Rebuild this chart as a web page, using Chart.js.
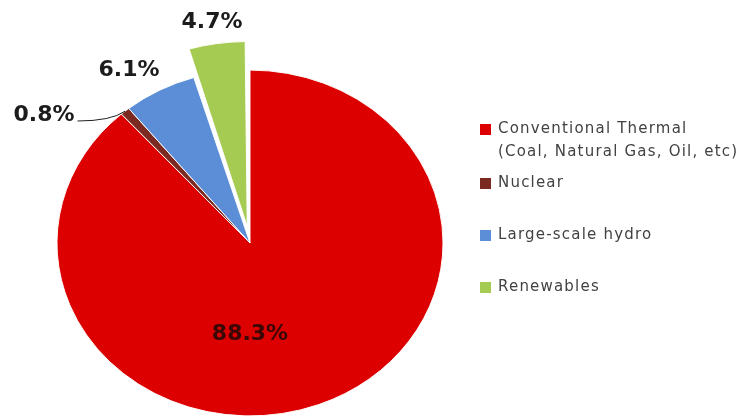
<!DOCTYPE html>
<html>
<head>
<meta charset="utf-8">
<script src="https://cdn.jsdelivr.net/npm/chart.js@4.4.1/dist/chart.umd.min.js"></script>
<style>
  html, body { margin: 0; padding: 0; background: #fff; }
  #wrap { width: 738px; height: 417px; position: relative; }
</style>
</head>
<body>
<div id="wrap"><canvas id="pie_chart_div" width="738" height="417"></canvas></div>
<script>
// ===========================================================================
// data

const categories = [
  ["Conventional Thermal", "(Coal, Natural Gas, Oil, etc)"],
  ["Nuclear"],
  ["Large-scale hydro"],
  ["Renewables"]
];
const shares = [88.3, 0.8, 6.1, 4.7];
const sliceColors = ["#DC0000", "#7B2A22", "#5B8ED6", "#A6CB52"];
// chart.js only moves an arc by a fraction of its offset
const sliceOffsets = [0, 0, 0, 75];

// ===========================================================================
// layout bits (not data)

const squash = 0.896;           // pie drawn a bit flatter, like the Excel one
const valueLabels = [           // label centre, relative to pie centre
  { dx: 0,    dy: 91,   color: "#3a0606" },
  { dx: -206, dy: -128, color: "#1c1c1c", leader: true },
  { dx: -121, dy: -173, color: "#1c1c1c" },
  { dx: -38,  dy: -221, color: "#1c1c1c" }
];
const legendRows = [129, 183, 235, 287];

// squash the arcs vertically around the pie centre
const ellipsePlugin = {
  id: "ellipse",
  beforeDatasetsDraw(chart) {
    const arc = chart.getDatasetMeta(0).data[0];
    const ctx = chart.ctx;
    ctx.save();
    ctx.translate(arc.x, arc.y);
    ctx.scale(1, squash);
    ctx.translate(-arc.x, -arc.y);
  },
  afterDatasetsDraw(chart) {
    chart.ctx.restore();
  }
};

// percentage labels + leader line
const labelPlugin = {
  id: "valueLabels",
  afterDatasetsDraw(chart) {
    const ctx = chart.ctx;
    const arcs = chart.getDatasetMeta(0).data;
    const cx = arcs[0].x, cy = arcs[0].y;
    ctx.save();
    ctx.font = 'bold 22px "DejaVu Sans"';
    ctx.textAlign = "center";
    ctx.textBaseline = "middle";
    shares.forEach((v, i) => {
      const p = valueLabels[i];
      const x = cx + p.dx, y = cy + p.dy;
      ctx.fillStyle = p.color;
      ctx.fillText(v.toFixed(1) + "%", x, y);
      if (p.leader) {
        // point on the outer edge of this slice
        const a = arcs[i];
        const mid = (a.startAngle + a.endAngle) / 2;
        const ex = cx + Math.cos(mid) * a.outerRadius;
        const ey = cy + Math.sin(mid) * a.outerRadius * squash;
        const w = ctx.measureText(v.toFixed(1) + "%").width;
        ctx.strokeStyle = "#222";
        ctx.lineWidth = 1;
        ctx.beginPath();
        ctx.moveTo(x + w / 2 + 3, y + 6);
        ctx.quadraticCurveTo(ex - 14, y + 6, ex, ey);
        ctx.stroke();
      }
    });
    ctx.restore();
  }
};

// legend on the right, drawn by hand (two-line first entry)
const legendPlugin = {
  id: "sideLegend",
  afterDraw(chart) {
    const ctx = chart.ctx;
    ctx.save();
    ctx.font = '15px "DejaVu Sans"';
    ctx.letterSpacing = "1.2px";
    ctx.textBaseline = "middle";
    ctx.textAlign = "left";
    categories.forEach((lines, i) => {
      const y = legendRows[i];
      ctx.fillStyle = sliceColors[i];
      ctx.fillRect(480, y - 5, 11, 11);
      ctx.fillStyle = "#424242";
      lines.forEach((t, k) => ctx.fillText(t, 498, y + k * 23));
    });
    ctx.restore();
  }
};

// ===========================================================================

function createPieChart(ctx) {
  return new Chart(ctx, {
    type: "pie",
    data: {
      labels: categories.map(c => c.join(" ")),
      datasets: [{
        data: shares,
        backgroundColor: sliceColors,
        borderColor: "#ffffff",
        borderWidth: 1,
        offset: sliceOffsets,
        radius: 193
      }]
    },
    options: {
      responsive: false,
      animation: false,
      layout: { padding: { left: 0, right: 238, top: 69, bottom: 0 } },
      plugins: {
        legend: { display: false },
        tooltip: { enabled: false }
      }
    },
    plugins: [ellipsePlugin, labelPlugin, legendPlugin]
  });
}

document.addEventListener("DOMContentLoaded", () => {
  createPieChart(document.getElementById("pie_chart_div"));
});
</script>
</body>
</html>
